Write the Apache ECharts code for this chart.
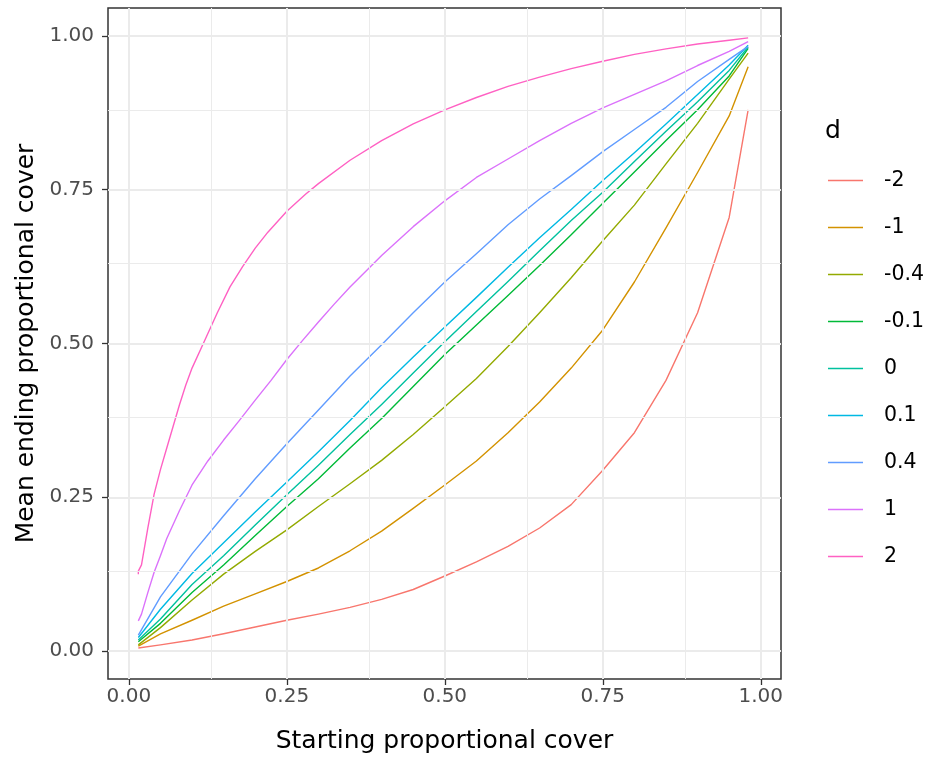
<!DOCTYPE html>
<html><head><meta charset="utf-8">
<script src="https://cdn.jsdelivr.net/npm/echarts@6/dist/echarts.min.js"></script>
<style>html,body{margin:0;padding:0;background:#fff}#c{width:928px;height:759px}</style>
</head><body><div id="c"></div>
<script>
const dLevels = ['-2','-1','-0.4','-0.1','0','0.1','0.4','1','2'];
const colors = ['#F8766D','#D39200','#93AA00','#00BA38','#00C19F','#00B9E3','#619CFF','#DB72FB','#FF61C3'];

const xCommon = [0.015,0.05,0.1,0.15,0.2,0.25,0.3,0.35,0.4,0.45,0.5,0.55,0.6,0.65,0.7,0.75,0.8,0.85,0.9,0.95,0.98];
const yNeg2  = [0.005,0.01,0.018,0.028,0.039,0.05,0.06,0.071,0.084,0.1,0.122,0.145,0.17,0.2,0.238,0.294,0.355,0.44,0.55,0.705,0.88];
const yNeg1  = [0.008,0.028,0.05,0.073,0.093,0.113,0.135,0.163,0.195,0.232,0.27,0.309,0.355,0.405,0.46,0.522,0.6,0.688,0.778,0.87,0.95];
const yNeg04 = [0.01,0.038,0.083,0.125,0.162,0.197,0.235,0.272,0.31,0.352,0.397,0.443,0.495,0.55,0.607,0.667,0.725,0.792,0.858,0.93,0.972];
const yNeg01 = [0.015,0.045,0.095,0.14,0.188,0.235,0.28,0.33,0.378,0.43,0.482,0.53,0.578,0.627,0.677,0.728,0.779,0.83,0.88,0.935,0.98];
const yZero  = [0.018,0.052,0.108,0.155,0.205,0.254,0.302,0.352,0.401,0.452,0.503,0.552,0.601,0.651,0.70,0.746,0.796,0.845,0.893,0.944,0.982];
const yPos01 = [0.022,0.068,0.126,0.176,0.226,0.275,0.324,0.375,0.428,0.478,0.527,0.575,0.624,0.672,0.718,0.765,0.81,0.857,0.905,0.953,0.985];
const yPos04 = [0.026,0.088,0.158,0.22,0.28,0.337,0.392,0.447,0.498,0.55,0.60,0.646,0.693,0.735,0.773,0.812,0.848,0.884,0.926,0.962,0.983];

const xPos1 = [0.015,0.02,0.03,0.04,0.05,0.06,0.08,0.10,0.125,0.15,0.175,0.20,0.225,0.25,0.275,0.30,0.325,0.35,0.40,0.45,0.50,0.55,0.60,0.65,0.70,0.75,0.80,0.85,0.90,0.95,0.98];
const yPos1 = [0.049,0.06,0.095,0.128,0.155,0.183,0.228,0.27,0.309,0.343,0.375,0.408,0.44,0.474,0.505,0.535,0.564,0.592,0.643,0.69,0.732,0.77,0.80,0.83,0.858,0.883,0.905,0.927,0.952,0.975,0.991];

const xPos2 = [0.015,0.015,0.02,0.03,0.04,0.05,0.06,0.07,0.08,0.09,0.10,0.12,0.14,0.16,0.18,0.20,0.22,0.25,0.28,0.30,0.35,0.40,0.45,0.50,0.55,0.60,0.65,0.70,0.75,0.80,0.85,0.90,0.95,0.98];
const yPos2 = [0.125,0.13,0.14,0.20,0.255,0.295,0.33,0.365,0.40,0.432,0.46,0.505,0.55,0.592,0.625,0.655,0.681,0.715,0.743,0.76,0.798,0.83,0.857,0.88,0.9,0.918,0.933,0.947,0.959,0.97,0.979,0.987,0.993,0.997];

const xTicks = [0,0.25,0.5,0.75,1];
const yTicks = [0,0.25,0.5,0.75,1];
const xMinor = [0.125,0.375,0.625,0.875];
const yMinor = [0.125,0.375,0.625,0.875];

const seriesX = [xCommon,xCommon,xCommon,xCommon,xCommon,xCommon,xCommon,xPos1,xPos2];
const seriesY = [yNeg2,yNeg1,yNeg04,yNeg01,yZero,yPos01,yPos04,yPos1,yPos2];

const FONT = '"DejaVu Sans", sans-serif';
const chart = echarts.init(document.getElementById('c'), null, {renderer:'canvas'});

const gridLines = [];
xMinor.forEach(v=>gridLines.push({xAxis:v, lineStyle:{width:1}}));
yMinor.forEach(v=>gridLines.push({yAxis:v, lineStyle:{width:1}}));
xTicks.forEach(v=>gridLines.push({xAxis:v, lineStyle:{width:2}}));
yTicks.forEach(v=>gridLines.push({yAxis:v, lineStyle:{width:2}}));

const series = [{
  name:'__grid', type:'line', data:[], z:1, silent:true,
  markLine:{silent:true, symbol:['none','none'], label:{show:false}, animation:false,
    lineStyle:{color:'#EBEBEB', type:'solid', width:1}, emphasis:{disabled:true}, data:gridLines}
}];
dLevels.forEach((d,i)=>{
  series.push({
    name:d, type:'line', z:3, symbol:'none', showSymbol:false, smooth:false,
    lineStyle:{color:colors[i], width:1.4, join:'round'}, itemStyle:{color:colors[i]},
    data: seriesX[i].map((x,j)=>[x, seriesY[i][j]])
  });
});

chart.setOption({
  animation:false,
  backgroundColor:'#fff',
  title:{text:'d', left:825, top:119, padding:0, textStyle:{fontSize:25, fontWeight:'normal', color:'#000', fontFamily:FONT}},
  legend:{
    data:dLevels, orient:'vertical', left:828, top:170, itemWidth:35, itemHeight:14, itemGap:26,
    padding:0, icon:'path://M0,6 L35,6 L35,7.3 L0,7.3 Z',
    textStyle:{fontSize:20.5, color:'#000', fontFamily:FONT, padding:[0,0,0,16]},
    selectedMode:false
  },
  grid:{left:108, right:147, top:8, bottom:80, show:true, borderColor:'#333', borderWidth:1.5, backgroundColor:'transparent'},
  xAxis:{
    type:'value', min:-0.033, max:1.032,
    name:'Starting proportional cover', nameLocation:'middle', nameGap:50,
    nameTextStyle:{fontSize:25, color:'#000', fontFamily:FONT},
    axisLine:{show:false, onZero:false},
    axisTick:{show:true, length:6, lineStyle:{color:'#333', width:1.3}, customValues:xTicks},
    axisLabel:{customValues:xTicks, formatter:v=>v.toFixed(2), fontSize:20, color:'#4D4D4D', fontFamily:FONT, margin:8},
    splitLine:{show:false}
  },
  yAxis:{
    type:'value', min:-0.0455, max:1.0455,
    name:'Mean ending proportional cover', nameLocation:'middle', nameGap:68, nameRotate:90,
    nameTextStyle:{fontSize:25, color:'#000', fontFamily:FONT},
    axisLine:{show:false, onZero:false},
    axisTick:{show:true, length:6, lineStyle:{color:'#333', width:1.3}, customValues:yTicks},
    axisLabel:{customValues:yTicks, formatter:v=>v.toFixed(2), fontSize:20, color:'#4D4D4D', fontFamily:FONT, margin:14},
    splitLine:{show:false}
  },
  series:series
});
</script>
</body></html>
